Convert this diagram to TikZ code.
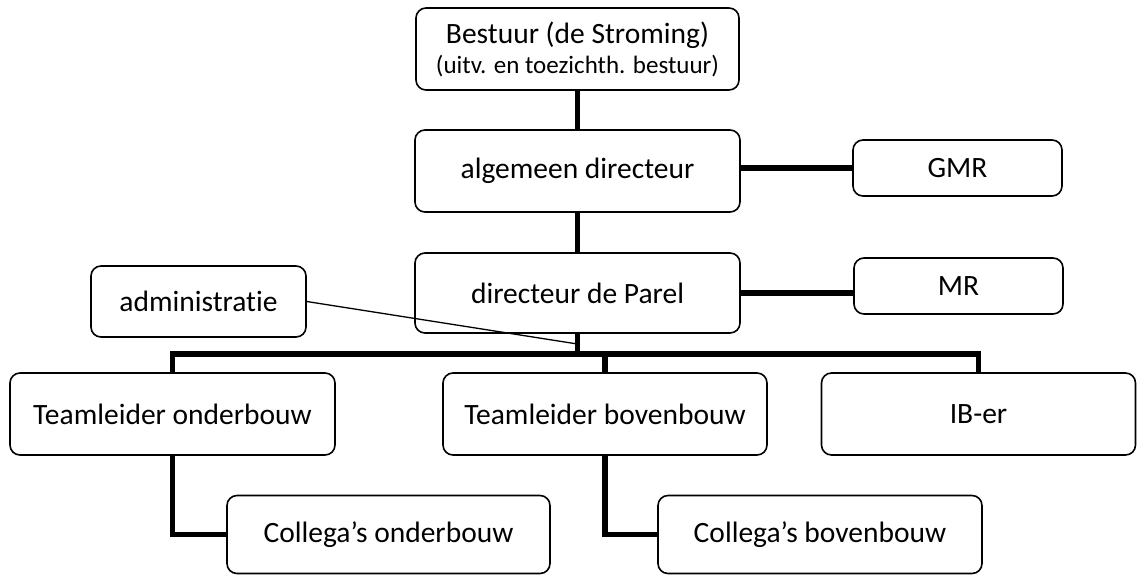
\documentclass[tikz,border=0pt]{standalone}
\usepackage{fontspec}
\setmainfont{Carlito}[Ligatures={NoCommon}]
\begin{document}
\begin{tikzpicture}[x=1pt,y=-1pt,
  box/.style={draw, line width=1.6pt, rounded corners=10pt, inner sep=0pt, anchor=center,
    font=\fontsize{29.5}{33}\selectfont},
  thick link/.style={line width=5.5pt, line join=miter},
  thin link/.style={line width=1.3pt}]
\useasboundingbox (0,0) rectangle (1137,574);
% nodes
\node[box, minimum width=323pt, minimum height=82pt, align=center] (bestuur) at (577.5,49)
  {\fontsize{29.5}{33}\selectfont Bestuur (de Stroming)\\[-3pt]\fontsize{25}{28}\selectfont (uitv. en toezichth. bestuur)};
\node[box, minimum width=325pt, minimum height=82pt] (alg) at (577.5,171) {algemeen directeur};
\node[box, minimum width=209pt, minimum height=56pt] (gmr) at (957.5,168) {GMR};
\node[box, minimum width=325pt, minimum height=80pt] (dir) at (577.5,293) {directeur de Parel};
\node[box, minimum width=209pt, minimum height=56pt] (mr) at (958.5,286) {MR};
\node[box, minimum width=215pt, minimum height=71pt] (admin) at (198.5,301.5) {administratie};
\node[box, minimum width=325pt, minimum height=82pt] (tlo) at (172.5,414) {Teamleider onderbouw};
\node[box, minimum width=324pt, minimum height=82pt] (tlb) at (605,414) {Teamleider bovenbouw};
\node[box, minimum width=314pt, minimum height=82pt] (ib) at (978.5,414) {IB-er};
\node[box, minimum width=323pt, minimum height=78pt] (colo) at (388.5,534.5) {Collega’s onderbouw};
\node[box, minimum width=324pt, minimum height=78pt] (colb) at (820,534.5) {Collega’s bovenbouw};
% coordinates
\coordinate (bus) at (577.5,354);
\coordinate (adminend) at (577.5,344);
% connectors
\draw[thick link] (bestuur.south) -- (alg.north);
\draw[thick link] (alg.south) -- (dir.north);
\draw[thick link] (gmr.west) -- (gmr.west -| alg.east);
\draw[thick link] (dir.east) -- (dir.east -| mr.west);
\draw[thick link] (dir.south) -- (bus);
\draw[thick link] (tlo.north) -- (tlo.north |- bus) -- (ib.north |- bus) -- (ib.north);
\draw[thick link] (tlb.north) -- (tlb.north |- bus);
\draw[thick link] (tlo.south) |- (colo.west);
\draw[thick link] (tlb.south) |- (colb.west);
\draw[thin link] (admin.east) -- (adminend);
\end{tikzpicture}
\end{document}
